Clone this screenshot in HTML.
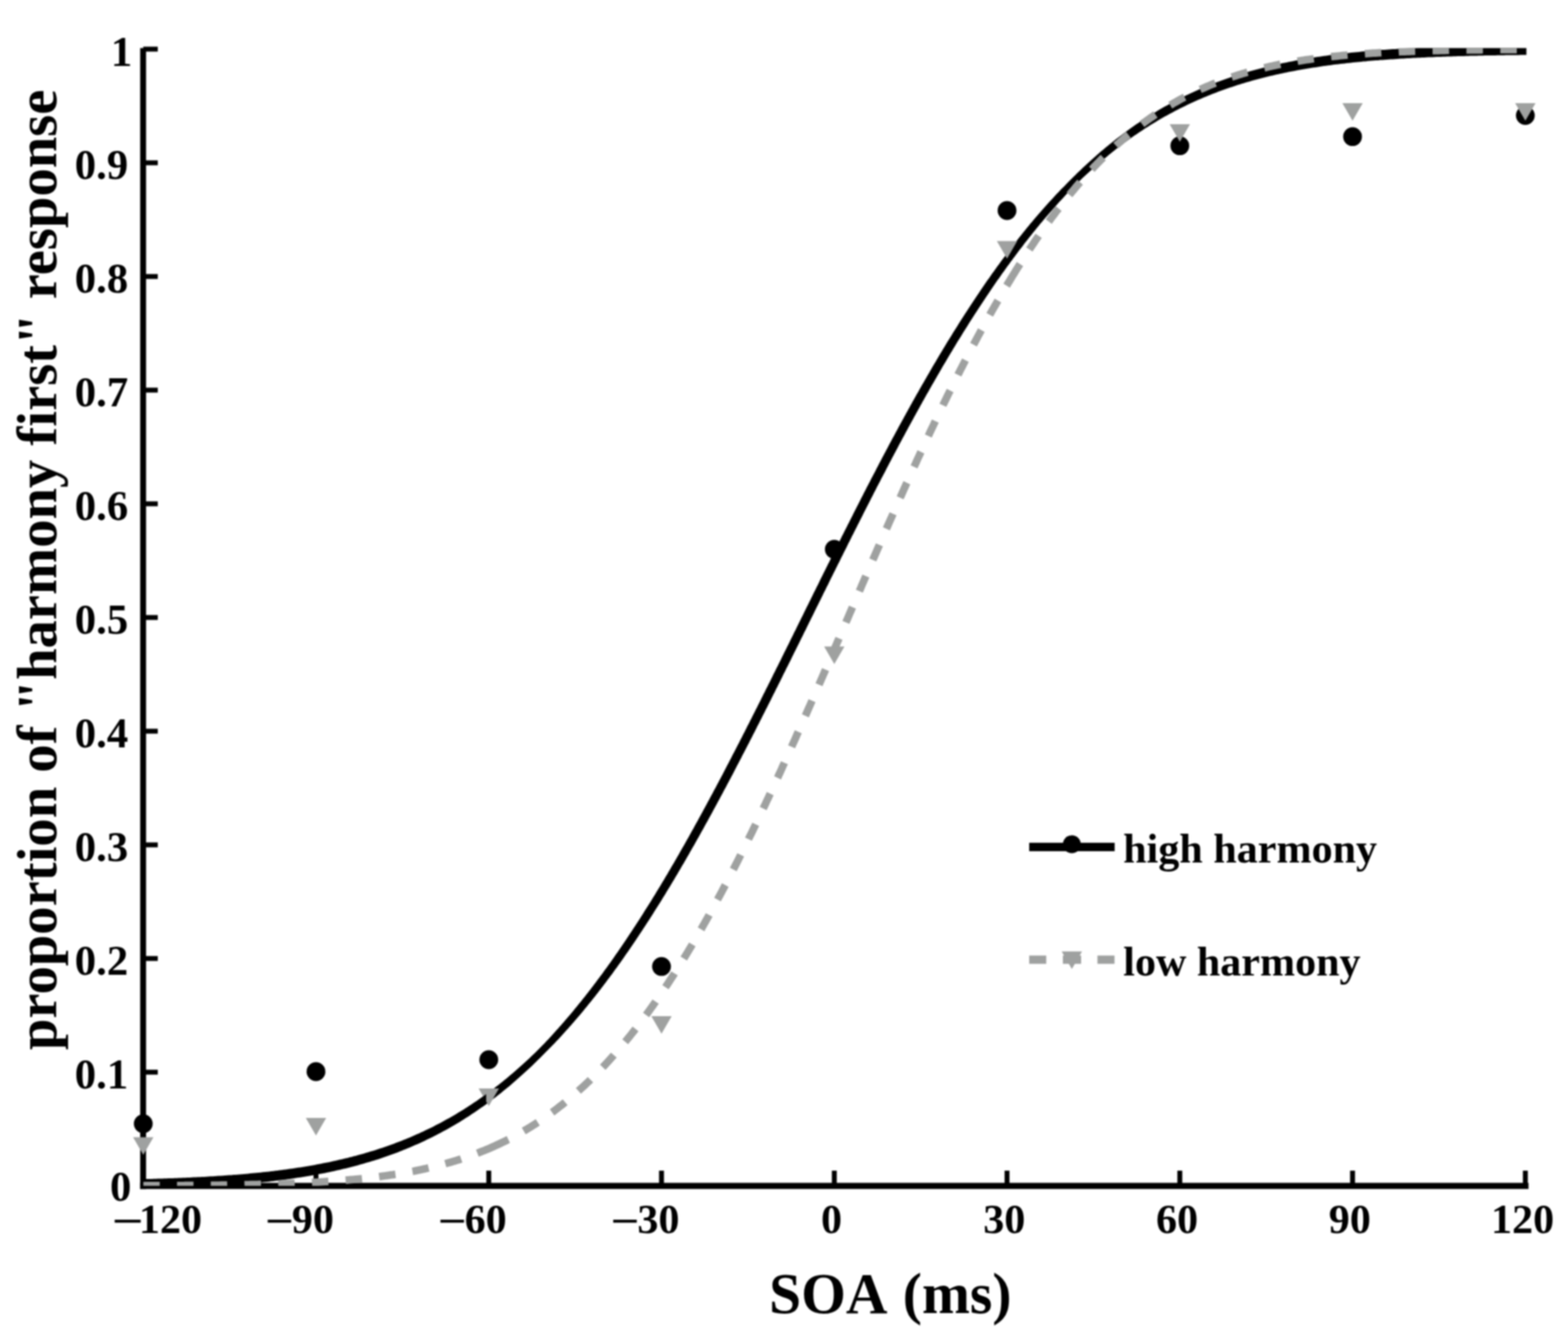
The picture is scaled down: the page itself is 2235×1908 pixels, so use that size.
<!DOCTYPE html>
<html lang="en"><head><meta charset="utf-8"><title>Proportion of "harmony first" response by SOA</title>
<style>
html,body{margin:0;padding:0;background:#fff;}
body{width:2235px;height:1908px;overflow:hidden;}
svg{display:block;}
text{font-family:"Liberation Serif","DejaVu Serif",serif;font-weight:bold;fill:#000;}
</style></head><body>
<svg width="2235" height="1908" viewBox="0 0 2235 1908" style="filter:blur(1.1px)">
<defs><clipPath id="plot"><rect x="204.2" y="68.5" width="1971.5" height="1621.3"/></clipPath></defs>
<rect width="2235" height="1908" fill="#fff"/>
<g stroke="#000" fill="none" stroke-linecap="butt">
<path d="M204.0,68.5 V1694.3" stroke-width="8.4"/>
<path d="M199.8,1689.8999999999999 H2178.7" stroke-width="8.6"/>
<path d="M204.2,1527.8 H224.9" stroke-width="7"/>
<path d="M204.2,1365.8 H224.9" stroke-width="7"/>
<path d="M204.2,1203.9 H224.9" stroke-width="7"/>
<path d="M204.2,1041.9 H224.9" stroke-width="7"/>
<path d="M204.2,879.9 H224.9" stroke-width="7"/>
<path d="M204.2,717.9 H224.9" stroke-width="7"/>
<path d="M204.2,555.9 H224.9" stroke-width="7"/>
<path d="M204.2,394.0 H224.9" stroke-width="7"/>
<path d="M204.2,232.0 H224.9" stroke-width="7"/>
<path d="M204.2,70.0 H224.9" stroke-width="7"/>
<path d="M450.4,1689.8 V1668.1" stroke-width="7"/>
<path d="M696.7,1689.8 V1668.1" stroke-width="7"/>
<path d="M942.9,1689.8 V1668.1" stroke-width="7"/>
<path d="M1189.2,1689.8 V1668.1" stroke-width="7"/>
<path d="M1435.4,1689.8 V1668.1" stroke-width="7"/>
<path d="M1681.7,1689.8 V1668.1" stroke-width="7"/>
<path d="M1927.9,1689.8 V1668.1" stroke-width="7"/>
<path d="M2174.2,1689.8 V1668.1" stroke-width="7"/>
</g>
<g font-size="61" text-anchor="end">
<text x="187.2" y="1711.3">0</text>
<text x="182.8" y="1550.8">0.1</text>
<text x="182.8" y="1388.8">0.2</text>
<text x="182.8" y="1226.9">0.3</text>
<text x="182.8" y="1064.9">0.4</text>
<text x="182.8" y="902.9">0.5</text>
<text x="182.8" y="740.9">0.6</text>
<text x="182.8" y="578.9">0.7</text>
<text x="182.8" y="417.0">0.8</text>
<text x="182.8" y="255.0">0.9</text>
<text x="188.5" y="93.5">1</text>
</g>
<g font-size="60">
<text x="159.2" y="1759.8999999999999" textLength="45.5" lengthAdjust="spacingAndGlyphs">−</text>
<text x="198.0" y="1757.3">120</text>
<text x="377.8" y="1759.8999999999999" textLength="41.2" lengthAdjust="spacingAndGlyphs">−</text>
<text x="415.9" y="1757.3">90</text>
<text x="624.1" y="1759.8999999999999" textLength="41.2" lengthAdjust="spacingAndGlyphs">−</text>
<text x="662.2" y="1757.3">60</text>
<text x="870.3" y="1759.8999999999999" textLength="41.2" lengthAdjust="spacingAndGlyphs">−</text>
<text x="908.4" y="1757.3">30</text>
<text x="1185.2" y="1757.3" text-anchor="middle">0</text>
<text x="1431.4" y="1757.3" text-anchor="middle">30</text>
<text x="1677.7" y="1757.3" text-anchor="middle">60</text>
<text x="1923.9" y="1757.3" text-anchor="middle">90</text>
<text x="2170.2" y="1757.3" text-anchor="middle">120</text>
</g>
<text x="1269" y="1871" font-size="82" text-anchor="middle" word-spacing="6">SOA (ms)</text>
<text transform="translate(80,812) rotate(-90)" font-size="80.7" text-anchor="middle">proportion of "harmony first" response</text>
<circle cx="204.2" cy="1601.2" r="13.4" fill="#000"/>
<circle cx="450.4" cy="1527.0" r="13.4" fill="#000"/>
<circle cx="696.7" cy="1510.0" r="13.4" fill="#000"/>
<circle cx="942.9" cy="1377.2" r="13.4" fill="#000"/>
<circle cx="1189.2" cy="782.7" r="13.4" fill="#000"/>
<circle cx="1435.4" cy="300.0" r="13.4" fill="#000"/>
<circle cx="1681.7" cy="207.7" r="13.4" fill="#000"/>
<circle cx="1927.9" cy="194.7" r="13.4" fill="#000"/>
<circle cx="2174.2" cy="164.6" r="13.4" fill="#000"/>
<polygon points="189.7,1620.4 218.7,1620.4 204.2,1645.4" fill="#9fa1a0"/>
<polygon points="435.9,1593.1 464.9,1593.1 450.4,1618.1" fill="#9fa1a0"/>
<polygon points="928.4,1447.9 957.4,1447.9 942.9,1472.9" fill="#9fa1a0"/>
<polygon points="1174.7,921.2 1203.7,921.2 1189.2,946.2" fill="#9fa1a0"/>
<polygon points="1667.2,176.9 1696.2,176.9 1681.7,201.9" fill="#9fa1a0"/>
<polygon points="1913.4,146.9 1942.4,146.9 1927.9,171.9" fill="#9fa1a0"/>
<polygon points="2159.7,146.9 2188.7,146.9 2174.2,171.9" fill="#9fa1a0"/>
<polygon points="1428.3,370.5 1430.1,368.1 1431.9,365.7 1433.7,363.3 1435.4,360.9 1437.2,358.5 1439.1,356.1 1440.9,353.7 1442.7,351.4 1444.5,349.0 1446.3,346.6 1448.2,344.3 1450.0,341.9 1451.9,339.6 1453.7,337.2 1455.6,334.9 1457.5,332.5 1459.3,330.2 1461.2,327.9 1463.1,325.6 1465.0,323.3 1466.9,321.0 1468.8,318.6 1470.7,316.4 1472.7,314.1 1474.6,311.8 1476.5,309.5 1478.5,307.2 1480.4,305.0 1482.4,302.7 1484.4,300.5 1486.3,298.2 1488.3,296.0 1490.3,293.7 1492.3,291.5 1494.3,289.3 1496.3,287.1 1498.3,284.9 1500.4,282.7 1502.4,280.5 1504.4,278.3 1506.5,276.1 1508.6,273.9 1510.6,271.8 1512.7,269.6 1514.8,267.5 1516.9,265.4 1519.0,263.2 1521.1,261.1 1530.3,251.8 1532.5,249.7 1534.6,247.6 1536.7,245.5 1538.9,243.5 1541.0,241.4 1543.2,239.3 1545.4,237.3 1547.6,235.2 1549.8,233.2 1552.0,231.2 1554.2,229.2 1556.4,227.2 1558.6,225.2 1560.9,223.2 1563.1,221.2 1565.4,219.2 1567.6,217.3 1569.9,215.3 1572.2,213.4 1574.5,211.5 1576.8,209.6 1579.1,207.7 1581.4,205.8 1583.7,203.9 1586.1,202.0 1588.4,200.2 1590.8,198.3 1593.1,196.5 1595.5,194.7 1597.9,192.9 1600.3,191.1 1602.7,189.3 1605.1,187.5 1607.5,185.7 1609.9,184.0 1612.3,182.3 1614.8,180.5 1617.2,178.8 1619.7,177.1 1622.2,175.5 1624.7,173.8 1627.2,172.1 1629.7,170.5 1632.2,168.8 1634.7,167.2 1637.2,165.6 1639.7,164.0 1642.3,162.5 1644.8,160.9 1647.4,159.4 1650.0,157.8 1652.5,156.3 1655.1,154.8 1657.7,153.3 1660.3,151.8 1662.9,150.4 1665.5,148.9 1668.2,147.5 1670.8,146.1 1673.4,144.7 1676.1,143.3 1678.7,141.9 1681.4,140.5 1684.1,139.2 1686.8,137.9 1689.4,136.6 1692.1,135.3 1694.8,134.0 1697.5,132.7 1700.3,131.5 1703.0,130.2 1705.7,129.0 1708.5,127.8 1711.2,126.6 1713.9,125.4 1716.7,124.3 1719.5,123.1 1722.2,122.0 1725.0,120.9 1727.8,119.8 1730.6,118.7 1733.4,117.6 1736.2,116.5 1739.0,115.5 1741.8,114.5 1744.6,113.5 1747.4,112.5 1750.2,111.5 1753.1,110.5 1755.9,109.6 1758.7,108.6 1761.6,107.7 1764.4,106.8 1767.3,105.9 1770.1,105.0 1773.0,104.1 1775.9,103.3 1778.7,102.4 1781.6,101.6 1784.5,100.8 1787.4,100.0 1790.2,99.2 1793.1,98.4 1796.0,97.7 1798.9,96.9 1801.8,96.2 1804.7,95.5 1807.6,94.7 1810.5,94.0 1813.4,93.4 1816.4,92.7 1819.3,92.0 1822.2,91.4 1825.1,90.7 1828.0,90.1 1831.0,89.5 1833.9,88.9 1836.8,88.3 1839.8,87.7 1842.7,87.2 1845.6,86.6 1848.6,86.0 1851.5,85.5 1854.5,85.0 1857.4,84.5 1860.4,84.0 1863.3,83.5 1866.3,83.0 1869.2,82.5 1872.2,82.0 1875.1,81.6 1878.1,81.1 1881.0,80.7 1884.0,80.3 1887.0,79.8 1889.9,79.4 1892.9,79.0 1895.8,78.6 1898.8,78.2 1901.8,77.8 1904.7,77.5 1907.7,77.1 1910.7,76.8 1913.7,76.4 1916.6,76.1 1919.6,75.7 1922.6,75.4 1925.5,75.1 1928.5,74.8 1931.5,74.5 1934.5,74.2 1937.4,73.9 1940.4,73.6 1943.4,73.3 1946.4,73.1 1949.4,72.8 1952.3,72.5 1955.3,72.3 1958.3,72.0 1961.3,71.8 1964.3,71.6 1967.2,71.3 1970.2,71.1 1973.2,70.9 1976.2,70.7 1979.2,70.5 1982.2,70.3 1985.1,70.1 1988.1,69.9 1991.1,69.7 1994.1,69.5 1997.1,69.3 2000.1,69.1 2003.1,69.0 2006.0,68.8 2009.0,68.6 2012.0,68.5 2015.0,68.3 2018.0,68.2 2021.0,68.0 2024.0,67.9 2026.9,67.7 2029.9,67.6 2032.9,67.4 2035.9,67.3 2038.9,67.2 2041.9,67.1 2044.9,66.9 2047.9,66.8 2050.9,66.7 2053.8,66.6 2056.8,66.5 2059.8,66.4 2062.8,66.3 2065.8,66.2 2068.8,66.1 2071.8,66.0 2074.8,65.9 2077.8,65.8 2080.7,65.7 2083.7,65.6 2086.7,65.6 2089.7,65.5 2092.7,65.4 2095.7,65.3 2098.7,65.2 2101.7,65.2 2104.7,65.1 2107.7,65.0 2110.6,65.0 2113.6,64.9 2116.6,64.8 2119.6,64.8 2122.6,64.7 2125.6,64.7 2128.6,64.6 2131.6,64.6 2134.6,64.5 2137.6,64.5 2140.5,64.4 2143.5,64.4 2146.5,64.3 2149.5,64.3 2152.5,64.2 2155.5,64.2 2158.5,64.1 2161.5,64.1 2164.5,64.1 2167.5,64.0 2170.4,64.0 2173.4,63.9 2176.4,63.9 2179.4,63.9 2182.4,63.8 2182.4,78.1 2179.4,78.2 2176.4,78.2 2173.4,78.2 2170.4,78.3 2167.5,78.3 2164.5,78.4 2161.5,78.4 2158.5,78.4 2155.5,78.5 2152.5,78.5 2149.5,78.6 2146.5,78.6 2143.5,78.7 2140.5,78.7 2137.6,78.8 2134.6,78.8 2131.6,78.9 2128.6,78.9 2125.6,79.0 2122.6,79.0 2119.6,79.1 2116.6,79.1 2113.6,79.2 2110.6,79.3 2107.7,79.3 2104.7,79.4 2101.7,79.5 2098.7,79.5 2095.7,79.6 2092.7,79.7 2089.7,79.8 2086.7,79.9 2083.7,79.9 2080.7,80.0 2077.8,80.1 2074.8,80.2 2071.8,80.3 2068.8,80.4 2065.8,80.5 2062.8,80.6 2059.8,80.7 2056.8,80.8 2053.8,80.9 2050.9,81.0 2047.9,81.1 2044.9,81.2 2041.9,81.4 2038.9,81.5 2035.9,81.6 2032.9,81.7 2029.9,81.9 2026.9,82.0 2024.0,82.2 2021.0,82.3 2018.0,82.5 2015.0,82.6 2012.0,82.8 2009.0,82.9 2006.0,83.1 2003.1,83.3 2000.1,83.4 1997.1,83.6 1994.1,83.8 1991.1,84.0 1988.1,84.2 1985.1,84.4 1982.2,84.6 1979.2,84.8 1976.2,85.0 1973.2,85.2 1970.2,85.4 1967.2,85.6 1964.3,85.9 1961.3,86.1 1958.3,86.3 1955.3,86.6 1952.3,86.8 1949.4,87.1 1946.4,87.4 1943.4,87.6 1940.4,87.9 1937.4,88.2 1934.5,88.5 1931.5,88.8 1928.5,89.1 1925.5,89.4 1922.6,89.7 1919.6,90.0 1916.6,90.4 1913.7,90.7 1910.7,91.1 1907.7,91.4 1904.7,91.8 1901.8,92.1 1898.8,92.5 1895.8,92.9 1892.9,93.3 1889.9,93.7 1887.0,94.1 1884.0,94.6 1881.0,95.0 1878.1,95.4 1875.1,95.9 1872.2,96.3 1869.2,96.8 1866.3,97.3 1863.3,97.8 1860.4,98.3 1857.4,98.8 1854.5,99.3 1851.5,99.8 1848.6,100.3 1845.6,100.9 1842.7,101.5 1839.8,102.0 1836.8,102.6 1833.9,103.2 1831.0,103.8 1828.0,104.4 1825.1,105.0 1822.2,105.7 1819.3,106.3 1816.4,107.0 1813.4,107.7 1810.5,108.3 1807.6,109.0 1804.7,109.8 1801.8,110.5 1798.9,111.2 1796.0,112.0 1793.1,112.7 1790.2,113.5 1787.4,114.3 1784.5,115.1 1781.6,115.9 1778.7,116.7 1775.9,117.6 1773.0,118.4 1770.1,119.3 1767.3,120.2 1764.4,121.1 1761.6,122.0 1758.7,122.9 1755.9,123.9 1753.1,124.8 1750.2,125.8 1747.4,126.8 1744.6,127.8 1741.8,128.8 1739.0,129.8 1736.2,130.8 1733.4,131.9 1730.6,133.0 1727.8,134.1 1725.0,135.2 1722.2,136.3 1719.5,137.4 1716.7,138.6 1713.9,139.7 1711.2,140.9 1708.5,142.1 1705.7,143.3 1703.0,144.5 1700.3,145.8 1697.5,147.0 1694.8,148.3 1692.1,149.6 1689.4,150.9 1686.8,152.2 1684.1,153.5 1681.4,154.8 1678.7,156.2 1676.1,157.6 1673.4,159.0 1670.8,160.4 1668.2,161.8 1665.5,163.2 1662.9,164.7 1660.3,166.1 1657.7,167.6 1655.1,169.1 1652.5,170.6 1650.0,172.1 1647.4,173.7 1644.8,175.2 1642.3,176.8 1639.7,178.3 1637.2,179.9 1634.7,181.5 1632.2,183.1 1629.7,184.8 1627.2,186.4 1624.7,188.1 1622.2,189.8 1619.7,191.4 1617.2,193.1 1614.8,194.8 1612.3,196.6 1609.9,198.3 1607.5,200.0 1605.1,201.8 1602.7,203.6 1600.3,205.4 1597.9,207.2 1595.5,209.0 1593.1,210.8 1590.8,212.6 1588.4,214.5 1586.1,216.3 1583.7,218.2 1581.4,220.1 1579.1,222.0 1576.8,223.9 1574.5,225.8 1572.2,227.7 1569.9,229.6 1567.6,231.6 1565.4,233.5 1563.1,235.5 1560.9,237.5 1558.6,239.5 1556.4,241.5 1554.2,243.5 1552.0,245.5 1549.8,247.5 1547.6,249.5 1545.4,251.6 1543.2,253.6 1541.0,255.7 1538.9,257.8 1536.7,259.8 1534.6,261.9 1532.5,264.0 1530.3,266.1 1535.4,261.1 1533.3,263.2 1531.2,265.4 1529.1,267.5 1527.0,269.6 1524.9,271.8 1522.9,273.9 1520.8,276.1 1518.7,278.3 1516.7,280.5 1514.7,282.7 1512.6,284.9 1510.6,287.1 1508.6,289.3 1506.6,291.5 1504.6,293.7 1502.6,296.0 1500.6,298.2 1498.7,300.5 1496.7,302.7 1494.7,305.0 1492.8,307.2 1490.8,309.5 1488.9,311.8 1487.0,314.1 1485.0,316.4 1483.1,318.6 1481.2,321.0 1479.3,323.3 1477.4,325.6 1475.5,327.9 1473.6,330.2 1471.8,332.5 1469.9,334.9 1468.0,337.2 1466.2,339.6 1464.3,341.9 1462.5,344.3 1460.6,346.6 1458.8,349.0 1457.0,351.4 1455.2,353.7 1453.4,356.1 1451.5,358.5 1449.7,360.9 1448.0,363.3 1446.2,365.7 1444.4,368.1 1442.6,370.5" fill="#000" clip-path="url(#plot)"/>
<polygon points="1420.9,343.4 1449.9,343.4 1435.4,368.4" fill="#9fa1a0"/>
<polygon points="692.6,1559.4 695.0,1557.6 697.4,1555.9 699.8,1554.1 702.2,1552.3 704.6,1550.4 707.0,1548.6 709.4,1546.8 711.7,1544.9 714.1,1543.1 716.4,1541.2 718.7,1539.3 721.0,1537.4 723.4,1535.5 725.7,1533.6 728.0,1531.6 730.2,1529.7 732.5,1527.7 734.8,1525.8 737.0,1523.8 739.3,1521.8 741.5,1519.8 743.8,1517.8 746.0,1515.8 748.2,1513.8 750.4,1511.8 752.6,1509.7 754.8,1507.7 757.0,1505.6 759.1,1503.6 761.3,1501.5 763.4,1499.4 765.6,1497.3 767.7,1495.2 769.8,1493.1 764.8,1498.1 766.9,1496.0 769.0,1493.8 771.1,1491.7 773.2,1489.5 775.3,1487.4 777.4,1485.2 779.4,1483.0 781.5,1480.9 783.5,1478.7 785.6,1476.5 787.6,1474.3 789.6,1472.0 791.6,1469.8 793.6,1467.6 795.6,1465.4 797.6,1463.1 799.6,1460.9 801.6,1458.6 803.5,1456.4 805.5,1454.1 807.5,1451.8 809.4,1449.5 811.4,1447.3 813.3,1445.0 815.2,1442.7 817.1,1440.4 819.0,1438.1 820.9,1435.7 822.8,1433.4 824.7,1431.1 826.6,1428.8 828.5,1426.4 830.4,1424.1 832.2,1421.7 834.1,1419.4 835.9,1417.0 837.8,1414.7 839.6,1412.3 841.5,1409.9 843.3,1407.6 845.1,1405.2 846.9,1402.8 848.7,1400.4 850.5,1398.0 852.3,1395.6 854.1,1393.2 855.9,1390.8 857.7,1388.4 859.5,1386.0 861.2,1383.5 863.0,1381.1 864.8,1378.7 866.5,1376.3 868.3,1373.8 870.0,1371.4 871.7,1368.9 873.5,1366.5 875.2,1364.0 876.9,1361.6 878.6,1359.1 880.3,1356.7 882.0,1354.2 883.7,1351.7 885.4,1349.2 887.1,1346.8 888.8,1344.3 890.5,1341.8 892.2,1339.3 893.8,1336.8 895.5,1334.3 897.1,1331.8 898.8,1329.3 900.5,1326.8 902.1,1324.3 903.7,1321.8 905.4,1319.3 907.0,1316.8 908.6,1314.3 910.3,1311.8 911.9,1309.3 913.5,1306.7 915.1,1304.2 916.7,1301.7 918.3,1299.1 919.9,1296.6 921.5,1294.1 923.1,1291.5 924.7,1289.0 926.3,1286.4 927.9,1283.9 929.5,1281.3 931.0,1278.8 932.6,1276.2 934.2,1273.7 935.7,1271.1 937.3,1268.6 938.8,1266.0 940.4,1263.4 941.9,1260.9 943.5,1258.3 945.0,1255.7 946.6,1253.2 948.1,1250.6 949.6,1248.0 951.2,1245.4 952.7,1242.8 954.2,1240.3 955.7,1237.7 957.2,1235.1 958.7,1232.5 960.3,1229.9 961.8,1227.3 963.3,1224.7 964.8,1222.1 966.3,1219.5 967.8,1216.9 969.2,1214.3 970.7,1211.7 972.2,1209.1 973.7,1206.5 975.2,1203.9 976.7,1201.3 978.1,1198.7 979.6,1196.1 981.1,1193.5 982.5,1190.9 984.0,1188.2 985.5,1185.6 986.9,1183.0 988.4,1180.4 989.8,1177.8 991.3,1175.1 992.7,1172.5 994.2,1169.9 995.6,1167.3 997.1,1164.6 998.5,1162.0 999.9,1159.4 1001.4,1156.7 1002.8,1154.1 1004.2,1151.5 1005.7,1148.8 1007.1,1146.2 1008.5,1143.6 1009.9,1140.9 1011.4,1138.3 1012.8,1135.6 1014.2,1133.0 1015.6,1130.4 1017.0,1127.7 1018.4,1125.1 1019.9,1122.4 1021.3,1119.8 1022.7,1117.1 1024.1,1114.5 1025.5,1111.8 1026.9,1109.2 1028.3,1106.5 1029.7,1103.9 1031.1,1101.2 1032.5,1098.6 1033.8,1095.9 1035.2,1093.3 1036.6,1090.6 1038.0,1087.9 1039.4,1085.3 1040.8,1082.6 1042.2,1080.0 1043.5,1077.3 1044.9,1074.6 1046.3,1072.0 1047.7,1069.3 1049.0,1066.7 1050.4,1064.0 1051.8,1061.3 1053.2,1058.7 1054.5,1056.0 1055.9,1053.3 1057.3,1050.7 1058.6,1048.0 1060.0,1045.3 1061.4,1042.7 1062.7,1040.0 1064.1,1037.3 1065.4,1034.6 1066.8,1032.0 1068.2,1029.3 1069.5,1026.6 1070.9,1023.9 1072.2,1021.3 1073.6,1018.6 1074.9,1015.9 1076.3,1013.2 1077.6,1010.6 1079.0,1007.9 1080.3,1005.2 1081.7,1002.5 1083.0,999.9 1084.4,997.2 1085.7,994.5 1087.1,991.8 1088.4,989.1 1089.8,986.5 1091.1,983.8 1092.4,981.1 1093.8,978.4 1095.1,975.7 1096.5,973.1 1097.8,970.4 1099.1,967.7 1100.5,965.0 1101.8,962.3 1103.1,959.6 1104.5,957.0 1105.8,954.3 1107.1,951.6 1108.5,948.9 1109.8,946.2 1111.2,943.5 1112.5,940.9 1113.8,938.2 1115.1,935.5 1116.5,932.8 1117.8,930.1 1119.1,927.4 1120.5,924.7 1121.8,922.1 1123.1,919.4 1124.5,916.7 1125.8,914.0 1127.1,911.3 1128.5,908.6 1129.8,905.9 1131.1,903.3 1132.4,900.6 1133.8,897.9 1135.1,895.2 1136.4,892.5 1137.8,889.8 1139.1,887.1 1140.4,884.4 1141.7,881.8 1143.1,879.1 1144.4,876.4 1145.7,873.7 1147.0,871.0 1148.4,868.3 1149.7,865.6 1151.0,862.9 1152.4,860.3 1153.7,857.6 1155.0,854.9 1156.3,852.2 1157.7,849.5 1159.0,846.8 1160.3,844.1 1161.7,841.4 1163.0,838.8 1164.3,836.1 1165.7,833.4 1167.0,830.7 1168.3,828.0 1169.6,825.3 1171.0,822.6 1172.3,820.0 1173.6,817.3 1175.0,814.6 1176.3,811.9 1177.6,809.2 1179.0,806.5 1180.3,803.8 1181.7,801.2 1183.0,798.5 1184.3,795.8 1185.7,793.1 1187.0,790.4 1188.3,787.8 1189.7,785.1 1191.0,782.4 1192.4,779.7 1193.7,777.0 1195.0,774.3 1196.4,771.7 1197.7,769.0 1199.1,766.3 1200.4,763.6 1201.8,760.9 1203.1,758.3 1204.5,755.6 1205.8,752.9 1207.2,750.2 1208.5,747.6 1209.9,744.9 1211.2,742.2 1212.6,739.5 1213.9,736.9 1215.3,734.2 1216.6,731.5 1218.0,728.8 1219.3,726.2 1220.7,723.5 1222.1,720.8 1223.4,718.2 1224.8,715.5 1226.2,712.8 1227.5,710.1 1228.9,707.5 1230.3,704.8 1231.6,702.1 1233.0,699.5 1234.4,696.8 1235.7,694.1 1237.1,691.5 1238.5,688.8 1239.9,686.2 1241.2,683.5 1242.6,680.8 1244.0,678.2 1245.4,675.5 1246.8,672.9 1248.2,670.2 1249.5,667.5 1250.9,664.9 1252.3,662.2 1253.7,659.6 1255.1,656.9 1256.5,654.3 1257.9,651.6 1259.3,649.0 1260.7,646.3 1262.1,643.7 1263.5,641.0 1264.9,638.4 1266.3,635.7 1267.7,633.1 1269.1,630.4 1270.6,627.8 1272.0,625.1 1273.4,622.5 1274.8,619.9 1276.2,617.2 1277.7,614.6 1279.1,612.0 1280.5,609.3 1281.9,606.7 1283.4,604.1 1284.8,601.4 1286.3,598.8 1287.7,596.2 1289.1,593.5 1290.6,590.9 1292.0,588.3 1293.5,585.7 1294.9,583.0 1296.4,580.4 1297.8,577.8 1299.3,575.2 1300.7,572.6 1302.2,569.9 1303.7,567.3 1305.1,564.7 1306.6,562.1 1308.1,559.5 1309.6,556.9 1311.0,554.3 1312.5,551.7 1314.0,549.1 1315.5,546.5 1317.0,543.9 1318.5,541.3 1320.0,538.7 1321.5,536.1 1323.0,533.5 1324.5,530.9 1326.0,528.3 1327.5,525.7 1329.0,523.1 1330.5,520.5 1332.0,517.9 1333.6,515.4 1335.1,512.8 1336.6,510.2 1338.2,507.6 1339.7,505.0 1341.2,502.5 1342.8,499.9 1344.3,497.3 1345.9,494.8 1347.4,492.2 1349.0,489.6 1350.5,487.1 1352.1,484.5 1353.7,482.0 1355.3,479.4 1356.8,476.9 1358.4,474.3 1360.0,471.8 1361.6,469.2 1363.2,466.7 1364.8,464.2 1366.4,461.6 1368.0,459.1 1369.6,456.6 1371.2,454.0 1372.8,451.5 1374.4,449.0 1376.0,446.5 1377.7,443.9 1379.3,441.4 1380.9,438.9 1382.6,436.4 1384.2,433.9 1385.9,431.4 1387.5,428.9 1389.2,426.4 1390.8,423.9 1392.5,421.4 1394.2,418.9 1395.9,416.4 1397.5,414.0 1399.2,411.5 1400.9,409.0 1402.6,406.5 1404.3,404.1 1406.0,401.6 1407.7,399.1 1409.5,396.7 1411.2,394.2 1412.9,391.8 1414.6,389.3 1416.4,386.9 1418.1,384.5 1419.9,382.0 1421.6,379.6 1423.4,377.2 1425.2,374.7 1426.9,372.3 1428.7,369.9 1443.0,369.9 1441.2,372.3 1439.5,374.7 1437.7,377.2 1435.9,379.6 1434.2,382.0 1432.4,384.5 1430.7,386.9 1428.9,389.3 1427.2,391.8 1425.5,394.2 1423.8,396.7 1422.0,399.1 1420.3,401.6 1418.6,404.1 1416.9,406.5 1415.2,409.0 1413.5,411.5 1411.8,414.0 1410.2,416.4 1408.5,418.9 1406.8,421.4 1405.1,423.9 1403.5,426.4 1401.8,428.9 1400.2,431.4 1398.5,433.9 1396.9,436.4 1395.2,438.9 1393.6,441.4 1392.0,443.9 1390.3,446.5 1388.7,449.0 1387.1,451.5 1385.5,454.0 1383.9,456.6 1382.3,459.1 1380.7,461.6 1379.1,464.2 1377.5,466.7 1375.9,469.2 1374.3,471.8 1372.7,474.3 1371.1,476.9 1369.6,479.4 1368.0,482.0 1366.4,484.5 1364.8,487.1 1363.3,489.6 1361.7,492.2 1360.2,494.8 1358.6,497.3 1357.1,499.9 1355.5,502.5 1354.0,505.0 1352.5,507.6 1350.9,510.2 1349.4,512.8 1347.9,515.4 1346.3,517.9 1344.8,520.5 1343.3,523.1 1341.8,525.7 1340.3,528.3 1338.8,530.9 1337.3,533.5 1335.8,536.1 1334.3,538.7 1332.8,541.3 1331.3,543.9 1329.8,546.5 1328.3,549.1 1326.8,551.7 1325.3,554.3 1323.9,556.9 1322.4,559.5 1320.9,562.1 1319.4,564.7 1318.0,567.3 1316.5,569.9 1315.0,572.6 1313.6,575.2 1312.1,577.8 1310.7,580.4 1309.2,583.0 1307.8,585.7 1306.3,588.3 1304.9,590.9 1303.4,593.5 1302.0,596.2 1300.6,598.8 1299.1,601.4 1297.7,604.1 1296.2,606.7 1294.8,609.3 1293.4,612.0 1292.0,614.6 1290.5,617.2 1289.1,619.9 1287.7,622.5 1286.3,625.1 1284.9,627.8 1283.4,630.4 1282.0,633.1 1280.6,635.7 1279.2,638.4 1277.8,641.0 1276.4,643.7 1275.0,646.3 1273.6,649.0 1272.2,651.6 1270.8,654.3 1269.4,656.9 1268.0,659.6 1266.6,662.2 1265.2,664.9 1263.8,667.5 1262.5,670.2 1261.1,672.9 1259.7,675.5 1258.3,678.2 1256.9,680.8 1255.5,683.5 1254.2,686.2 1252.8,688.8 1251.4,691.5 1250.0,694.1 1248.7,696.8 1247.3,699.5 1245.9,702.1 1244.6,704.8 1243.2,707.5 1241.8,710.1 1240.5,712.8 1239.1,715.5 1237.7,718.2 1236.4,720.8 1235.0,723.5 1233.6,726.2 1232.3,728.8 1230.9,731.5 1229.6,734.2 1228.2,736.9 1226.9,739.5 1225.5,742.2 1224.2,744.9 1222.8,747.6 1221.5,750.2 1220.1,752.9 1218.8,755.6 1217.4,758.3 1216.1,760.9 1214.7,763.6 1213.4,766.3 1212.0,769.0 1210.7,771.7 1209.3,774.3 1208.0,777.0 1206.7,779.7 1205.3,782.4 1204.0,785.1 1202.6,787.8 1201.3,790.4 1200.0,793.1 1198.6,795.8 1197.3,798.5 1196.0,801.2 1194.6,803.8 1193.3,806.5 1191.9,809.2 1190.6,811.9 1189.3,814.6 1187.9,817.3 1186.6,820.0 1185.3,822.6 1183.9,825.3 1182.6,828.0 1181.3,830.7 1180.0,833.4 1178.6,836.1 1177.3,838.8 1176.0,841.4 1174.6,844.1 1173.3,846.8 1172.0,849.5 1170.6,852.2 1169.3,854.9 1168.0,857.6 1166.7,860.3 1165.3,862.9 1164.0,865.6 1162.7,868.3 1161.3,871.0 1160.0,873.7 1158.7,876.4 1157.4,879.1 1156.0,881.8 1154.7,884.4 1153.4,887.1 1152.1,889.8 1150.7,892.5 1149.4,895.2 1148.1,897.9 1146.7,900.6 1145.4,903.3 1144.1,905.9 1142.8,908.6 1141.4,911.3 1140.1,914.0 1138.8,916.7 1137.4,919.4 1136.1,922.1 1134.8,924.7 1133.4,927.4 1132.1,930.1 1130.8,932.8 1129.4,935.5 1128.1,938.2 1126.8,940.9 1125.5,943.5 1124.1,946.2 1122.8,948.9 1121.4,951.6 1120.1,954.3 1118.8,957.0 1117.4,959.6 1116.1,962.3 1114.8,965.0 1113.4,967.7 1112.1,970.4 1110.8,973.1 1109.4,975.7 1108.1,978.4 1106.7,981.1 1105.4,983.8 1104.1,986.5 1102.7,989.1 1101.4,991.8 1100.0,994.5 1098.7,997.2 1097.3,999.9 1096.0,1002.5 1094.6,1005.2 1093.3,1007.9 1091.9,1010.6 1090.6,1013.2 1089.2,1015.9 1087.9,1018.6 1086.5,1021.3 1085.2,1023.9 1083.8,1026.6 1082.5,1029.3 1081.1,1032.0 1079.7,1034.6 1078.4,1037.3 1077.0,1040.0 1075.7,1042.7 1074.3,1045.3 1072.9,1048.0 1071.6,1050.7 1070.2,1053.3 1068.8,1056.0 1067.5,1058.7 1066.1,1061.3 1064.7,1064.0 1063.3,1066.7 1062.0,1069.3 1060.6,1072.0 1059.2,1074.6 1057.8,1077.3 1056.5,1080.0 1055.1,1082.6 1053.7,1085.3 1052.3,1087.9 1050.9,1090.6 1049.5,1093.3 1048.1,1095.9 1046.8,1098.6 1045.4,1101.2 1044.0,1103.9 1042.6,1106.5 1041.2,1109.2 1039.8,1111.8 1038.4,1114.5 1037.0,1117.1 1035.6,1119.8 1034.2,1122.4 1032.7,1125.1 1031.3,1127.7 1029.9,1130.4 1028.5,1133.0 1027.1,1135.6 1025.7,1138.3 1024.2,1140.9 1022.8,1143.6 1021.4,1146.2 1020.0,1148.8 1018.5,1151.5 1017.1,1154.1 1015.7,1156.7 1014.2,1159.4 1012.8,1162.0 1011.4,1164.6 1009.9,1167.3 1008.5,1169.9 1007.0,1172.5 1005.6,1175.1 1004.1,1177.8 1002.7,1180.4 1001.2,1183.0 999.8,1185.6 998.3,1188.2 996.8,1190.9 995.4,1193.5 993.9,1196.1 992.4,1198.7 991.0,1201.3 989.5,1203.9 988.0,1206.5 986.5,1209.1 985.0,1211.7 983.5,1214.3 982.1,1216.9 980.6,1219.5 979.1,1222.1 977.6,1224.7 976.1,1227.3 974.6,1229.9 973.0,1232.5 971.5,1235.1 970.0,1237.7 968.5,1240.3 967.0,1242.8 965.5,1245.4 963.9,1248.0 962.4,1250.6 960.9,1253.2 959.3,1255.7 957.8,1258.3 956.2,1260.9 954.7,1263.4 953.1,1266.0 951.6,1268.6 950.0,1271.1 948.5,1273.7 946.9,1276.2 945.3,1278.8 943.8,1281.3 942.2,1283.9 940.6,1286.4 939.0,1289.0 937.4,1291.5 935.8,1294.1 934.2,1296.6 932.6,1299.1 931.0,1301.7 929.4,1304.2 927.8,1306.7 926.2,1309.3 924.6,1311.8 922.9,1314.3 921.3,1316.8 919.7,1319.3 918.0,1321.8 916.4,1324.3 914.8,1326.8 913.1,1329.3 911.4,1331.8 909.8,1334.3 908.1,1336.8 906.5,1339.3 904.8,1341.8 903.1,1344.3 901.4,1346.8 899.7,1349.2 898.0,1351.7 896.3,1354.2 894.6,1356.7 892.9,1359.1 891.2,1361.6 889.5,1364.0 887.8,1366.5 886.0,1368.9 884.3,1371.4 882.6,1373.8 880.8,1376.3 879.1,1378.7 877.3,1381.1 875.5,1383.5 873.8,1386.0 872.0,1388.4 870.2,1390.8 868.4,1393.2 866.6,1395.6 864.8,1398.0 863.0,1400.4 861.2,1402.8 859.4,1405.2 857.6,1407.6 855.8,1409.9 853.9,1412.3 852.1,1414.7 850.2,1417.0 848.4,1419.4 846.5,1421.7 844.7,1424.1 842.8,1426.4 840.9,1428.8 839.0,1431.1 837.1,1433.4 835.2,1435.7 833.3,1438.1 831.4,1440.4 829.5,1442.7 827.6,1445.0 825.7,1447.3 823.7,1449.5 821.8,1451.8 819.8,1454.1 817.8,1456.4 815.9,1458.6 813.9,1460.9 811.9,1463.1 809.9,1465.4 807.9,1467.6 805.9,1469.8 803.9,1472.0 801.9,1474.3 799.9,1476.5 797.8,1478.7 795.8,1480.9 793.7,1483.0 791.7,1485.2 789.6,1487.4 787.5,1489.5 785.4,1491.7 783.3,1493.8 781.2,1496.0 779.1,1498.1 769.8,1507.4 767.7,1509.5 765.6,1511.6 763.4,1513.7 761.3,1515.8 759.1,1517.9 757.0,1519.9 754.8,1522.0 752.6,1524.0 750.4,1526.1 748.2,1528.1 746.0,1530.1 743.8,1532.1 741.5,1534.1 739.3,1536.1 737.0,1538.1 734.8,1540.1 732.5,1542.0 730.2,1544.0 728.0,1545.9 725.7,1547.9 723.4,1549.8 721.0,1551.7 718.7,1553.6 716.4,1555.5 714.1,1557.4 711.7,1559.2 709.4,1561.1 707.0,1562.9 704.6,1564.7 702.2,1566.6 699.8,1568.4 697.4,1570.2 695.0,1571.9 692.6,1573.7" fill="#000" clip-path="url(#plot)"/>
<polygon points="682.2,1551.0 711.2,1551.0 696.7,1576.0" fill="#9fa1a0"/>
<polygon points="204.2,1680.2 207.2,1680.1 210.2,1680.0 213.2,1679.9 216.2,1679.9 219.2,1679.8 222.2,1679.7 225.2,1679.6 228.2,1679.5 231.1,1679.4 234.1,1679.3 237.1,1679.2 240.1,1679.1 243.1,1679.0 246.1,1678.9 249.1,1678.8 252.1,1678.7 255.1,1678.5 258.1,1678.4 261.1,1678.3 264.1,1678.2 267.1,1678.0 270.1,1677.9 273.1,1677.8 276.0,1677.6 279.0,1677.5 282.0,1677.3 285.0,1677.2 288.0,1677.0 291.0,1676.9 294.0,1676.7 297.0,1676.5 300.0,1676.3 303.0,1676.2 306.0,1676.0 308.9,1675.8 311.9,1675.6 314.9,1675.4 317.9,1675.2 320.9,1675.0 323.9,1674.8 326.9,1674.6 329.9,1674.4 332.9,1674.1 335.8,1673.9 338.8,1673.7 341.8,1673.4 344.8,1673.2 347.8,1672.9 350.8,1672.7 353.7,1672.4 356.7,1672.1 359.7,1671.8 362.7,1671.6 365.7,1671.3 368.7,1671.0 371.6,1670.7 374.6,1670.3 377.6,1670.0 380.6,1669.7 383.5,1669.4 386.5,1669.0 389.5,1668.7 392.5,1668.3 395.4,1667.9 398.4,1667.6 401.4,1667.2 404.4,1666.8 407.3,1666.4 410.3,1666.0 413.3,1665.6 416.2,1665.2 419.2,1664.7 422.2,1664.3 425.1,1663.8 428.1,1663.4 431.0,1662.9 434.0,1662.4 436.9,1661.9 439.9,1661.4 442.9,1660.9 445.8,1660.4 448.7,1659.9 451.7,1659.3 454.6,1658.8 457.6,1658.2 460.5,1657.6 463.5,1657.1 466.4,1656.5 469.3,1655.9 472.3,1655.2 475.2,1654.6 478.1,1654.0 481.0,1653.3 484.0,1652.6 486.9,1652.0 489.8,1651.3 492.7,1650.6 495.6,1649.9 498.5,1649.1 501.4,1648.4 504.3,1647.6 507.2,1646.9 510.1,1646.1 513.0,1645.3 515.9,1644.5 518.8,1643.7 521.6,1642.8 524.5,1642.0 527.4,1641.1 530.2,1640.3 533.1,1639.4 536.0,1638.5 538.8,1637.6 541.7,1636.6 544.5,1635.7 547.3,1634.7 550.2,1633.7 553.0,1632.7 555.8,1631.7 558.6,1630.7 561.5,1629.7 564.3,1628.6 567.1,1627.6 569.9,1626.5 572.6,1625.4 575.4,1624.3 578.2,1623.2 581.0,1622.0 583.7,1620.9 586.5,1619.7 589.2,1618.5 592.0,1617.3 594.7,1616.1 597.5,1614.9 600.2,1613.6 602.9,1612.4 605.6,1611.1 608.3,1609.8 611.0,1608.5 613.7,1607.2 616.4,1605.9 619.1,1604.5 621.7,1603.1 624.4,1601.8 627.0,1600.4 629.7,1599.0 632.3,1597.5 634.9,1596.1 637.6,1594.6 640.2,1593.2 642.8,1591.7 645.4,1590.2 648.0,1588.7 650.5,1587.2 653.1,1585.6 655.7,1584.1 658.2,1582.5 660.8,1580.9 663.3,1579.3 665.8,1577.7 668.3,1576.1 670.8,1574.4 673.3,1572.8 675.8,1571.1 678.3,1569.4 680.8,1567.8 683.2,1566.0 685.7,1564.3 688.1,1562.6 690.6,1560.9 693.0,1559.1 693.0,1573.4 690.6,1575.2 688.1,1576.9 685.7,1578.6 683.2,1580.3 680.8,1582.1 678.3,1583.7 675.8,1585.4 673.3,1587.1 670.8,1588.7 668.3,1590.4 665.8,1592.0 663.3,1593.6 660.8,1595.2 658.2,1596.8 655.7,1598.4 653.1,1599.9 650.5,1601.5 648.0,1603.0 645.4,1604.5 642.8,1606.0 640.2,1607.5 637.6,1608.9 634.9,1610.4 632.3,1611.8 629.7,1613.3 627.0,1614.7 624.4,1616.1 621.7,1617.4 619.1,1618.8 616.4,1620.2 613.7,1621.5 611.0,1622.8 608.3,1624.1 605.6,1625.4 602.9,1626.7 600.2,1627.9 597.5,1629.2 594.7,1630.4 592.0,1631.6 589.2,1632.8 586.5,1634.0 583.7,1635.2 581.0,1636.3 578.2,1637.5 575.4,1638.6 572.6,1639.7 569.9,1640.8 567.1,1641.9 564.3,1642.9 561.5,1644.0 558.6,1645.0 555.8,1646.0 553.0,1647.0 550.2,1648.0 547.3,1649.0 544.5,1650.0 541.7,1650.9 538.8,1651.9 536.0,1652.8 533.1,1653.7 530.2,1654.6 527.4,1655.4 524.5,1656.3 521.6,1657.1 518.8,1658.0 515.9,1658.8 513.0,1659.6 510.1,1660.4 507.2,1661.2 504.3,1661.9 501.4,1662.7 498.5,1663.4 495.6,1664.2 492.7,1664.9 489.8,1665.6 486.9,1666.3 484.0,1666.9 481.0,1667.6 478.1,1668.3 475.2,1668.9 472.3,1669.5 469.3,1670.2 466.4,1670.8 463.5,1671.4 460.5,1671.9 457.6,1672.5 454.6,1673.1 451.7,1673.6 448.7,1674.2 445.8,1674.7 442.9,1675.2 439.9,1675.7 436.9,1676.2 434.0,1676.7 431.0,1677.2 428.1,1677.7 425.1,1678.1 422.2,1678.6 419.2,1679.0 416.2,1679.5 413.3,1679.9 410.3,1680.3 407.3,1680.7 404.4,1681.1 401.4,1681.5 398.4,1681.9 395.4,1682.2 392.5,1682.6 389.5,1683.0 386.5,1683.3 383.5,1683.7 380.6,1684.0 377.6,1684.3 374.6,1684.6 371.6,1685.0 368.7,1685.3 365.7,1685.6 362.7,1685.9 359.7,1686.1 356.7,1686.4 353.7,1686.7 350.8,1687.0 347.8,1687.2 344.8,1687.5 341.8,1687.7 338.8,1688.0 335.8,1688.2 332.9,1688.4 329.9,1688.7 326.9,1688.9 323.9,1689.1 320.9,1689.3 317.9,1689.5 314.9,1689.7 311.9,1689.9 308.9,1690.1 306.0,1690.3 303.0,1690.5 300.0,1690.6 297.0,1690.8 294.0,1691.0 291.0,1691.2 288.0,1691.3 285.0,1691.5 282.0,1691.6 279.0,1691.8 276.0,1691.9 273.1,1692.1 270.1,1692.2 267.1,1692.3 264.1,1692.5 261.1,1692.6 258.1,1692.7 255.1,1692.8 252.1,1693.0 249.1,1693.1 246.1,1693.2 243.1,1693.3 240.1,1693.4 237.1,1693.5 234.1,1693.6 231.1,1693.7 228.2,1693.8 225.2,1693.9 222.2,1694.0 219.2,1694.1 216.2,1694.2 213.2,1694.2 210.2,1694.3 207.2,1694.4 204.2,1694.5" fill="#000" clip-path="url(#plot)"/>
<path d="M204.2,1689.6 L207.2,1689.5 L210.2,1689.5 L213.2,1689.5 L216.2,1689.5 L219.2,1689.5 L222.2,1689.5 L225.2,1689.5 L228.2,1689.5 L231.2,1689.4 L234.2,1689.4 L237.2,1689.4 L240.2,1689.4 L243.2,1689.4 L246.2,1689.4 L249.2,1689.3 L252.2,1689.3 L255.2,1689.3 L258.2,1689.3 L261.2,1689.3 L264.2,1689.2 L267.2,1689.2 L270.2,1689.2 L273.2,1689.2 L276.2,1689.2 L279.2,1689.1 L282.2,1689.1 L285.2,1689.1 L288.2,1689.0 L291.2,1689.0 L294.2,1689.0 L297.2,1689.0 L300.2,1688.9 L303.2,1688.9 L306.2,1688.9 L309.2,1688.8 L312.2,1688.8 L315.2,1688.7 L318.2,1688.7 L321.2,1688.7 L324.2,1688.6 L327.2,1688.6 L330.2,1688.5 L333.2,1688.5 L336.2,1688.4 L339.2,1688.4 L342.2,1688.3 L345.2,1688.3 L348.2,1688.2 L351.2,1688.1 L354.2,1688.1 L357.2,1688.0 L360.2,1688.0 L363.2,1687.9 L366.2,1687.8 L369.2,1687.7 L372.2,1687.7 L375.2,1687.6 L378.2,1687.5 L381.2,1687.4 L384.2,1687.3 L387.2,1687.3 L390.2,1687.2 L393.2,1687.1 L396.2,1687.0 L399.2,1686.9 L402.2,1686.8 L405.2,1686.7 L408.2,1686.6 L411.2,1686.5 L414.2,1686.3 L417.2,1686.2 L420.2,1686.1 L423.2,1686.0 L426.2,1685.8 L429.2,1685.7 L432.1,1685.6 L435.1,1685.4 L438.1,1685.3 L441.1,1685.1 L444.1,1685.0 L447.1,1684.8 L450.1,1684.6 L453.1,1684.5 L456.1,1684.3 L459.1,1684.1 L462.1,1683.9 L465.1,1683.7 L468.1,1683.5 L471.1,1683.3 L474.1,1683.1 L477.1,1682.9 L480.1,1682.7 L483.1,1682.5 L486.0,1682.2 L489.0,1682.0 L492.0,1681.7 L495.0,1681.5 L498.0,1681.2 L501.0,1680.9 L504.0,1680.7 L507.0,1680.4 L509.9,1680.1 L512.9,1679.8 L515.9,1679.5 L518.9,1679.2 L521.9,1678.9 L524.9,1678.5 L527.8,1678.2 L530.8,1677.8 L533.8,1677.5 L536.8,1677.1 L539.8,1676.7 L542.7,1676.3 L545.7,1675.9 L548.7,1675.5 L551.6,1675.1 L554.6,1674.7 L557.6,1674.2 L560.5,1673.8 L563.5,1673.3 L566.5,1672.9 L569.4,1672.4 L572.4,1671.9 L575.4,1671.4 L578.3,1670.9 L581.3,1670.3 L584.2,1669.8 L587.2,1669.2 L590.1,1668.7 L593.0,1668.1 L596.0,1667.5 L598.9,1666.9 L601.9,1666.2 L604.8,1665.6 L607.7,1665.0 L610.6,1664.3 L613.6,1663.6 L616.5,1662.9 L619.4,1662.2 L622.3,1661.5 L625.2,1660.7 L628.1,1660.0 L631.0,1659.2 L633.9,1658.4 L636.8,1657.6 L639.7,1656.8 L642.6,1656.0 L645.5,1655.1 L648.3,1654.3 L651.2,1653.4 L654.1,1652.5 L656.9,1651.6 L659.8,1650.6 L662.6,1649.7 L665.4,1648.7 L668.3,1647.7 L671.1,1646.7 L673.9,1645.7 L676.7,1644.6 L679.5,1643.6 L682.3,1642.5 L685.1,1641.4 L687.9,1640.3 L690.7,1639.2 L693.5,1638.0 L696.2,1636.9 L699.0,1635.7 L701.7,1634.5 L704.5,1633.3 L707.2,1632.0 L709.9,1630.8 L712.7,1629.5 L715.4,1628.2 L718.1,1626.9 L720.8,1625.6 L723.4,1624.2 L726.1,1622.9 L728.8,1621.5 L731.4,1620.1 L734.1,1618.6 L736.7,1617.2 L739.3,1615.8 L741.9,1614.3 L744.5,1612.8 L747.1,1611.3 L749.7,1609.8 L752.3,1608.2 L754.9,1606.7 L757.4,1605.1 L759.9,1603.5 L762.5,1601.9 L765.0,1600.2 L767.5,1598.6 L770.0,1596.9 L772.5,1595.3 L775.0,1593.6 L777.4,1591.9 L779.9,1590.1 L782.3,1588.4 L784.8,1586.6 L787.2,1584.9 L789.6,1583.1 L792.0,1581.3 L794.4,1579.5 L796.8,1577.6 L799.1,1575.8 L801.5,1573.9 L803.8,1572.1 L806.1,1570.2 L808.5,1568.3 L810.8,1566.3 L813.1,1564.4 L815.4,1562.5 L817.6,1560.5 L819.9,1558.6 L822.2,1556.6 L824.4,1554.6 L826.6,1552.6 L828.8,1550.6 L831.1,1548.5 L833.3,1546.5 L835.4,1544.4 L837.6,1542.4 L839.8,1540.3 L841.9,1538.2 L844.1,1536.1 L846.2,1534.0 L848.3,1531.9 L850.5,1529.7 L852.6,1527.6 L854.6,1525.5 L856.7,1523.3 L858.8,1521.1 L860.9,1518.9 L862.9,1516.8 L864.9,1514.6 L867.0,1512.3 L869.0,1510.1 L871.0,1507.9 L873.0,1505.7 L875.0,1503.4 L877.0,1501.2 L879.0,1498.9 L880.9,1496.6 L882.9,1494.4 L884.8,1492.1 L886.8,1489.8 L888.7,1487.5 L890.6,1485.2 L892.5,1482.9 L894.4,1480.5 L896.3,1478.2 L898.2,1475.9 L900.1,1473.5 L901.9,1471.2 L903.8,1468.8 L905.6,1466.5 L907.5,1464.1 L909.3,1461.7 L911.1,1459.3 L912.9,1457.0 L914.7,1454.6 L916.5,1452.2 L918.3,1449.8 L920.1,1447.3 L921.9,1444.9 L923.7,1442.5 L925.4,1440.1 L927.2,1437.6 L928.9,1435.2 L930.7,1432.8 L932.4,1430.3 L934.1,1427.9 L935.8,1425.4 L937.6,1422.9 L939.3,1420.5 L941.0,1418.0 L942.7,1415.5 L944.3,1413.0 L946.0,1410.5 L947.7,1408.0 L949.3,1405.6 L951.0,1403.1 L952.7,1400.5 L954.3,1398.0 L955.9,1395.5 L957.6,1393.0 L959.2,1390.5 L960.8,1388.0 L962.4,1385.4 L964.0,1382.9 L965.6,1380.4 L967.2,1377.8 L968.8,1375.3 L970.4,1372.7 L972.0,1370.2 L973.6,1367.6 L975.1,1365.1 L976.7,1362.5 L978.3,1360.0 L979.8,1357.4 L981.4,1354.8 L982.9,1352.2 L984.5,1349.7 L986.0,1347.1 L987.5,1344.5 L989.0,1341.9 L990.6,1339.3 L992.1,1336.7 L993.6,1334.2 L995.1,1331.6 L996.6,1329.0 L998.1,1326.4 L999.6,1323.8 L1001.0,1321.1 L1002.5,1318.5 L1004.0,1315.9 L1005.5,1313.3 L1006.9,1310.7 L1008.4,1308.1 L1009.9,1305.5 L1011.3,1302.8 L1012.8,1300.2 L1014.2,1297.6 L1015.7,1295.0 L1017.1,1292.3 L1018.5,1289.7 L1020.0,1287.0 L1021.4,1284.4 L1022.8,1281.8 L1024.2,1279.1 L1025.7,1276.5 L1027.1,1273.8 L1028.5,1271.2 L1029.9,1268.5 L1031.3,1265.9 L1032.7,1263.2 L1034.1,1260.6 L1035.5,1257.9 L1036.9,1255.3 L1038.2,1252.6 L1039.6,1249.9 L1041.0,1247.3 L1042.4,1244.6 L1043.7,1241.9 L1045.1,1239.3 L1046.5,1236.6 L1047.8,1233.9 L1049.2,1231.2 L1050.6,1228.6 L1051.9,1225.9 L1053.3,1223.2 L1054.6,1220.5 L1055.9,1217.8 L1057.3,1215.2 L1058.6,1212.5 L1060.0,1209.8 L1061.3,1207.1 L1062.6,1204.4 L1064.0,1201.7 L1065.3,1199.0 L1066.6,1196.3 L1067.9,1193.6 L1069.2,1190.9 L1070.6,1188.3 L1071.9,1185.6 L1073.2,1182.9 L1074.5,1180.2 L1075.8,1177.5 L1077.1,1174.8 L1078.4,1172.0 L1079.7,1169.3 L1081.0,1166.6 L1082.3,1163.9 L1083.6,1161.2 L1084.9,1158.5 L1086.1,1155.8 L1087.4,1153.1 L1088.7,1150.4 L1090.0,1147.7 L1091.3,1145.0 L1092.5,1142.2 L1093.8,1139.5 L1095.1,1136.8 L1096.4,1134.1 L1097.6,1131.4 L1098.9,1128.6 L1100.2,1125.9 L1101.4,1123.2 L1102.7,1120.5 L1103.9,1117.8 L1105.2,1115.0 L1106.5,1112.3 L1107.7,1109.6 L1109.0,1106.9 L1110.2,1104.1 L1111.5,1101.4 L1112.7,1098.7 L1114.0,1096.0 L1115.2,1093.2 L1116.4,1090.5 L1117.7,1087.8 L1118.9,1085.0 L1120.2,1082.3 L1121.4,1079.6 L1122.6,1076.8 L1123.9,1074.1 L1125.1,1071.4 L1126.3,1068.6 L1127.6,1065.9 L1128.8,1063.1 L1130.0,1060.4 L1131.2,1057.7 L1132.5,1054.9 L1133.7,1052.2 L1134.9,1049.5 L1136.1,1046.7 L1137.3,1044.0 L1138.6,1041.2 L1139.8,1038.5 L1141.0,1035.7 L1142.2,1033.0 L1143.4,1030.3 L1144.6,1027.5 L1145.9,1024.8 L1147.1,1022.0 L1148.3,1019.3 L1149.5,1016.5 L1150.7,1013.8 L1151.9,1011.0 L1153.1,1008.3 L1154.3,1005.6 L1155.5,1002.8 L1156.7,1000.1 L1157.9,997.3 L1159.1,994.6 L1160.3,991.8 L1161.5,989.1 L1162.7,986.3 L1163.9,983.6 L1165.1,980.8 L1166.3,978.1 L1167.5,975.3 L1168.7,972.6 L1169.9,969.8 L1171.1,967.1 L1172.3,964.3 L1173.5,961.6 L1174.7,958.8 L1175.9,956.0 L1177.1,953.3 L1178.3,950.5 L1179.5,947.8 L1180.7,945.0 L1181.8,942.3 L1183.0,939.5 L1184.2,936.8 L1185.4,934.0 L1186.6,931.3 L1187.8,928.5 L1189.0,925.8 L1190.2,923.0 L1191.4,920.2 L1192.5,917.5 L1193.7,914.7 L1194.9,912.0 L1196.1,909.2 L1197.3,906.5 L1198.5,903.7 L1199.7,901.0 L1200.9,898.2 L1202.0,895.5 L1203.2,892.7 L1204.4,889.9 L1205.6,887.2 L1206.8,884.4 L1208.0,881.7 L1209.2,878.9 L1210.3,876.2 L1211.5,873.4 L1212.7,870.7 L1213.9,867.9 L1215.1,865.1 L1216.3,862.4 L1217.5,859.6 L1218.6,856.9 L1219.8,854.1 L1221.0,851.4 L1222.2,848.6 L1223.4,845.9 L1224.6,843.1 L1225.8,840.3 L1227.0,837.6 L1228.1,834.8 L1229.3,832.1 L1230.5,829.3 L1231.7,826.6 L1232.9,823.8 L1234.1,821.1 L1235.3,818.3 L1236.5,815.6 L1237.7,812.8 L1238.9,810.0 L1240.0,807.3 L1241.2,804.5 L1242.4,801.8 L1243.6,799.0 L1244.8,796.3 L1246.0,793.5 L1247.2,790.8 L1248.4,788.0 L1249.6,785.3 L1250.8,782.5 L1252.0,779.8 L1253.2,777.0 L1254.4,774.3 L1255.6,771.5 L1256.8,768.8 L1258.0,766.0 L1259.2,763.3 L1260.4,760.5 L1261.6,757.8 L1262.8,755.0 L1264.0,752.3 L1265.2,749.5 L1266.4,746.8 L1267.6,744.1 L1268.8,741.3 L1270.1,738.6 L1271.3,735.8 L1272.5,733.1 L1273.7,730.3 L1274.9,727.6 L1276.1,724.8 L1277.3,722.1 L1278.6,719.4 L1279.8,716.6 L1281.0,713.9 L1282.2,711.1 L1283.4,708.4 L1284.7,705.7 L1285.9,702.9 L1287.1,700.2 L1288.3,697.4 L1289.6,694.7 L1290.8,692.0 L1292.0,689.2 L1293.3,686.5 L1294.5,683.8 L1295.7,681.0 L1297.0,678.3 L1298.2,675.6 L1299.4,672.8 L1300.7,670.1 L1301.9,667.4 L1303.2,664.6 L1304.4,661.9 L1305.7,659.2 L1306.9,656.4 L1308.1,653.7 L1309.4,651.0 L1310.7,648.3 L1311.9,645.5 L1313.2,642.8 L1314.4,640.1 L1315.7,637.4 L1316.9,634.7 L1318.2,631.9 L1319.5,629.2 L1320.7,626.5 L1322.0,623.8 L1323.3,621.1 L1324.6,618.3 L1325.8,615.6 L1327.1,612.9 L1328.4,610.2 L1329.7,607.5 L1331.0,604.8 L1332.2,602.1 L1333.5,599.4 L1334.8,596.6 L1336.1,593.9 L1337.4,591.2 L1338.7,588.5 L1340.0,585.8 L1341.3,583.1 L1342.6,580.4 L1343.9,577.7 L1345.2,575.0 L1346.5,572.3 L1347.9,569.6 L1349.2,566.9 L1350.5,564.2 L1351.8,561.5 L1353.1,558.9 L1354.5,556.2 L1355.8,553.5 L1357.1,550.8 L1358.5,548.1 L1359.8,545.4 L1361.1,542.7 L1362.5,540.0 L1363.8,537.4 L1365.2,534.7 L1366.5,532.0 L1367.9,529.3 L1369.2,526.7 L1370.6,524.0 L1372.0,521.3 L1373.3,518.6 L1374.7,516.0 L1376.1,513.3 L1377.5,510.6 L1378.8,508.0 L1380.2,505.3 L1381.6,502.7 L1383.0,500.0 L1384.4,497.3 L1385.8,494.7 L1387.2,492.0 L1388.6,489.4 L1390.0,486.7 L1391.4,484.1 L1392.8,481.4 L1394.2,478.8 L1395.7,476.2 L1397.1,473.5 L1398.5,470.9 L1400.0,468.2 L1401.4,465.6 L1402.8,463.0 L1404.3,460.3 L1405.7,457.7 L1407.2,455.1 L1408.6,452.5 L1410.1,449.9 L1411.6,447.2 L1413.0,444.6 L1414.5,442.0 L1416.0,439.4 L1417.5,436.8 L1419.0,434.2 L1420.5,431.6 L1422.0,429.0 L1423.5,426.4 L1425.0,423.8 L1426.5,421.2 L1428.0,418.6 L1429.5,416.0 L1431.0,413.4 L1432.6,410.9 L1434.1,408.3 L1435.7,405.7 L1437.2,403.1 L1438.8,400.6 L1440.3,398.0 L1441.9,395.5 L1443.4,392.9 L1445.0,390.3 L1446.6,387.8 L1448.2,385.2 L1449.8,382.7 L1451.4,380.2 L1453.0,377.6 L1454.6,375.1 L1456.2,372.6 L1457.8,370.0 L1459.4,367.5 L1461.1,365.0 L1462.7,362.5 L1464.3,360.0 L1466.0,357.5 L1467.6,355.0 L1469.3,352.5 L1471.0,350.0 L1472.7,347.5 L1474.3,345.0 L1476.0,342.5 L1477.7,340.0 L1479.4,337.6 L1481.1,335.1 L1482.8,332.7 L1484.6,330.2 L1486.3,327.7 L1488.0,325.3 L1489.8,322.9 L1491.5,320.4 L1493.3,318.0 L1495.1,315.6 L1496.8,313.2 L1498.6,310.7 L1500.4,308.3 L1502.2,305.9 L1504.0,303.5 L1505.8,301.1 L1507.6,298.8 L1509.5,296.4 L1511.3,294.0 L1513.2,291.6 L1515.0,289.3 L1516.9,286.9 L1518.7,284.6 L1520.6,282.3 L1522.5,279.9 L1524.4,277.6 L1526.3,275.3 L1528.2,273.0 L1530.2,270.7 L1532.1,268.4 L1534.0,266.1 L1536.0,263.8 L1537.9,261.5 L1539.9,259.3 L1541.9,257.0 L1543.9,254.8 L1545.9,252.5 L1547.9,250.3 L1549.9,248.1 L1551.9,245.9 L1554.0,243.7 L1556.0,241.5 L1558.1,239.3 L1560.1,237.1 L1562.2,235.0 L1564.3,232.8 L1566.4,230.7 L1568.5,228.5 L1570.6,226.4 L1572.8,224.3 L1574.9,222.2 L1577.1,220.1 L1579.2,218.0 L1581.4,216.0 L1583.6,213.9 L1585.8,211.9 L1588.0,209.8 L1590.2,207.8 L1592.4,205.8 L1594.7,203.8 L1596.9,201.8 L1599.2,199.8 L1601.5,197.9 L1603.7,195.9 L1606.0,194.0 L1608.3,192.1 L1610.7,190.2 L1613.0,188.3 L1615.3,186.4 L1617.7,184.5 L1620.0,182.7 L1622.4,180.9 L1624.8,179.0 L1627.2,177.2 L1629.6,175.4 L1632.0,173.7 L1634.4,171.9 L1636.9,170.2 L1639.3,168.4 L1641.8,166.7 L1644.3,165.0 L1646.8,163.3 L1649.2,161.7 L1651.8,160.0 L1654.3,158.4 L1656.8,156.8 L1659.3,155.2 L1661.9,153.6 L1664.4,152.0 L1667.0,150.5 L1669.6,149.0 L1672.2,147.4 L1674.8,145.9 L1677.4,144.5 L1680.0,143.0 L1682.6,141.6 L1685.3,140.1 L1687.9,138.7 L1690.6,137.3 L1693.3,136.0 L1695.9,134.6 L1698.6,133.3 L1701.3,132.0 L1704.0,130.7 L1706.7,129.4 L1709.5,128.1 L1712.2,126.9 L1714.9,125.7 L1717.7,124.5 L1720.4,123.3 L1723.2,122.1 L1726.0,120.9 L1728.7,119.8 L1731.5,118.7 L1734.3,117.6 L1737.1,116.5 L1739.9,115.5 L1742.7,114.4 L1745.6,113.4 L1748.4,112.4 L1751.2,111.4 L1754.0,110.4 L1756.9,109.5 L1759.7,108.5 L1762.6,107.6 L1765.5,106.7 L1768.3,105.8 L1771.2,104.9 L1774.1,104.1 L1776.9,103.2 L1779.8,102.4 L1782.7,101.6 L1785.6,100.8 L1788.5,100.0 L1791.4,99.3 L1794.3,98.5 L1797.2,97.8 L1800.1,97.1 L1803.1,96.4 L1806.0,95.7 L1808.9,95.0 L1811.8,94.4 L1814.8,93.7 L1817.7,93.1 L1820.6,92.5 L1823.6,91.9 L1826.5,91.3 L1829.5,90.7 L1832.4,90.2 L1835.4,89.6 L1838.3,89.1 L1841.3,88.6 L1844.2,88.1 L1847.2,87.6 L1850.1,87.1 L1853.1,86.6 L1856.1,86.1 L1859.0,85.7 L1862.0,85.2 L1865.0,84.8 L1867.9,84.4 L1870.9,84.0 L1873.9,83.6 L1876.9,83.2 L1879.8,82.8 L1882.8,82.4 L1885.8,82.1 L1888.8,81.7 L1891.7,81.4 L1894.7,81.0 L1897.7,80.7 L1900.7,80.4 L1903.7,80.1 L1906.7,79.8 L1909.7,79.5 L1912.6,79.2 L1915.6,78.9 L1918.6,78.7 L1921.6,78.4 L1924.6,78.1 L1927.6,77.9 L1930.6,77.6 L1933.6,77.4 L1936.6,77.2 L1939.5,77.0 L1942.5,76.7 L1945.5,76.5 L1948.5,76.3 L1951.5,76.1 L1954.5,75.9 L1957.5,75.7 L1960.5,75.6 L1963.5,75.4 L1966.5,75.2 L1969.5,75.0 L1972.5,74.9 L1975.5,74.7 L1978.5,74.6 L1981.5,74.4 L1984.5,74.3 L1987.5,74.1 L1990.5,74.0 L1993.5,73.9 L1996.4,73.7 L1999.4,73.6 L2002.4,73.5 L2005.4,73.4 L2008.4,73.3 L2011.4,73.2 L2014.4,73.0 L2017.4,72.9 L2020.4,72.8 L2023.4,72.7 L2026.4,72.7 L2029.4,72.6 L2032.4,72.5 L2035.4,72.4 L2038.4,72.3 L2041.4,72.2 L2044.4,72.2 L2047.4,72.1 L2050.4,72.0 L2053.4,71.9 L2056.4,71.9 L2059.4,71.8 L2062.4,71.7 L2065.4,71.7 L2068.4,71.6 L2071.4,71.6 L2074.4,71.5 L2077.4,71.4 L2080.4,71.4 L2083.4,71.3 L2086.4,71.3 L2089.4,71.2 L2092.4,71.2 L2095.4,71.2 L2098.4,71.1 L2101.4,71.1 L2104.4,71.0 L2107.4,71.0 L2110.4,71.0 L2113.4,70.9 L2116.4,70.9 L2119.4,70.9 L2122.4,70.8 L2125.4,70.8 L2128.4,70.8 L2131.4,70.7 L2134.4,70.7 L2137.4,70.7 L2140.4,70.7 L2143.4,70.6 L2146.4,70.6 L2149.4,70.6 L2152.4,70.6 L2155.4,70.5 L2158.4,70.5 L2161.4,70.5 L2164.4,70.5 L2167.4,70.5 L2170.4,70.4 L2173.4,70.4 L2176.4,70.4 L2179.4,70.4 L2182.4,70.4" fill="none" stroke="#9fa1a0" stroke-width="10.8" stroke-dasharray="23.5 24.6 23.5 24.6 23.5 24.6 23.5 24.6 23.5 24.6 23.5 24.6 23.5 24.6 23.5 24.6 23.5 24.6 23.5 24.6 48.3 25.05 23.5 24.9 23.5 24.9 23.5 24.9 23.5 24.9 23.5 24.9 23.5 24.9 23.5 24.9 23.5 24.9 23.5 24.9 23.5 24.9 23.5 24.9 23.5 24.9 23.5 24.9 23.5 24.9 23.5 24.9 23.5 24.9 23.5 24.9 23.5 24.9 23.5 24.9 23.5 24.9 23.5 24.9 23.5 24.9 23.5 24.9 23.5 24.9 23.5 24.9 23.5 24.9 23.5 24.9 23.5 24.9 23.5 24.55 36.2 24.75 23.5 24.8 23.5 24.8 23.5 24.8 23.5 24.8 23.5 24.8 23.5 24.8 23.5 24.8 23.5 24.8 23.5 24.8 23.5 24.8 23.5 24.8 23.5 24.8 23.5 24.8 23.5 24.8 23.5 24.8 23.5 24.8 23.5 9999" clip-path="url(#plot)"/>
<rect x="1467" y="1200.9" width="121.8" height="12" fill="#000"/>
<circle cx="1527.8" cy="1203" r="12.8" fill="#000"/>
<rect x="1467" y="1361.6" width="24.3" height="11.8" fill="#9fa1a0"/>
<rect x="1564.3" y="1361.6" width="24.3" height="11.8" fill="#9fa1a0"/>
<rect x="1515" y="1361.6" width="26" height="11.8" fill="#9fa1a0"/>
<polygon points="1513.3,1355.8 1542.3,1355.8 1527.8,1380.8" fill="#9fa1a0"/>
<text x="1601" y="1229" font-size="60">high harmony</text>
<text x="1601" y="1390" font-size="60">low harmony</text>
</svg></body></html>
